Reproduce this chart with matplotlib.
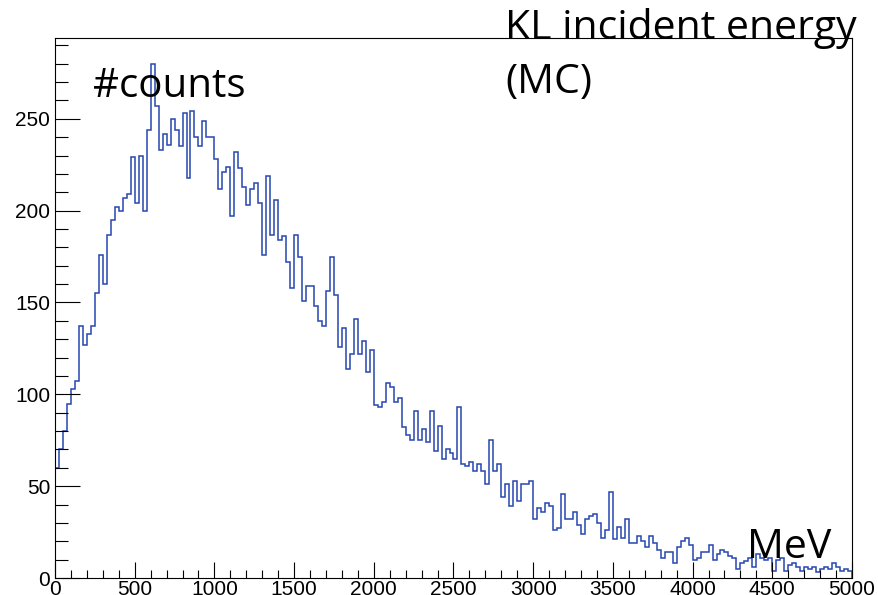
import numpy as np
import matplotlib
matplotlib.use("Agg")
import matplotlib.pyplot as plt
from matplotlib.ticker import MultipleLocator

# --- Data: KL incident energy histogram (MC), 200 bins of 25 MeV from 0 to 5000 ---
e_min = 0
e_max = 5000
n_bins = 200

counts = [
    60, 70, 80, 95, 103, 107, 137, 127, 133, 137,
    155, 176, 160, 187, 195, 202, 200, 207, 209, 229,
    204, 230, 200, 244, 280, 257, 233, 242, 236, 250,
    244, 235, 253, 218, 254, 240, 235, 249, 240, 240,
    228, 212, 221, 224, 197, 232, 223, 213, 203, 212,
    215, 204, 176, 219, 187, 206, 184, 186, 172, 158,
    187, 175, 151, 159, 159, 148, 140, 137, 156, 175,
    154, 126, 136, 114, 122, 141, 122, 129, 112, 124,
    94, 93, 96, 106, 104, 96, 98, 82, 78, 75,
    91, 75, 81, 74, 91, 69, 83, 65, 70, 68,
    65, 93, 62, 61, 63, 58, 62, 58, 51, 75,
    58, 62, 44, 51, 39, 53, 42, 51, 51, 53,
    32, 38, 36, 41, 39, 26, 27, 46, 32, 32,
    36, 29, 24, 32, 34, 35, 30, 22, 26, 47,
    21, 28, 22, 32, 19, 19, 23, 20, 17, 23,
    19, 15, 11, 14, 14, 8, 17, 20, 22, 18,
    10, 11, 14, 14, 18, 10, 13, 15, 14, 12,
    11, 5, 8, 9, 11, 6, 13, 11, 10, 11,
    4, 10, 11, 4, 7, 8, 6, 4, 6, 5,
    6, 3, 5, 6, 5, 8, 6, 4, 5, 4,
]

y_top = 294

edges = np.linspace(e_min, e_max, n_bins + 1)

# --- Figure (ROOT-like style) ---
fig = plt.figure(figsize=(8.79, 5.95), dpi=100)
ax = fig.add_axes([55 / 879, 17 / 595, 797 / 879, 540 / 595])

ax.stairs(counts, edges, color="#2646b0", linewidth=1.1)

ax.set_xlim(e_min, e_max)
ax.set_ylim(0, y_top)

ax.xaxis.set_major_locator(MultipleLocator(500))
ax.xaxis.set_minor_locator(MultipleLocator(100))
ax.yaxis.set_major_locator(MultipleLocator(50))
ax.yaxis.set_minor_locator(MultipleLocator(10))

ax.tick_params(axis="x", which="major", direction="in", length=11.5, width=0.8,
               pad=1.5, labelsize=15, top=False)
ax.tick_params(axis="x", which="minor", direction="in", length=5.8, width=0.8, top=False)
ax.tick_params(axis="y", which="major", direction="in", length=18, width=0.8,
               pad=3.5, labelsize=15, right=False)
ax.tick_params(axis="y", which="minor", direction="in", length=9, width=0.8, right=False)

for lab in ax.get_xticklabels() + ax.get_yticklabels():
    lab.set_fontfamily("Liberation Sans")

for sp in ax.spines.values():
    sp.set_linewidth(0.8)
    sp.set_color("black")

# --- Annotations ---
txt_font = "Open Sans"
fig.text(93 / 879, 1 - 97 / 595, "#counts", fontsize=29, family=txt_font, va="baseline")
fig.text(505 / 879, 1 - 39 / 595, "KL incident energy", fontsize=29.5, family=txt_font, va="baseline")
fig.text(505 / 879, 1 - 93 / 595, "(MC)", fontsize=29.5, family=txt_font, va="baseline")
fig.text(747 / 879, 1 - 558 / 595, "MeV", fontsize=29.5, family=txt_font, va="baseline")

fig.savefig("out.png", dpi=100)
